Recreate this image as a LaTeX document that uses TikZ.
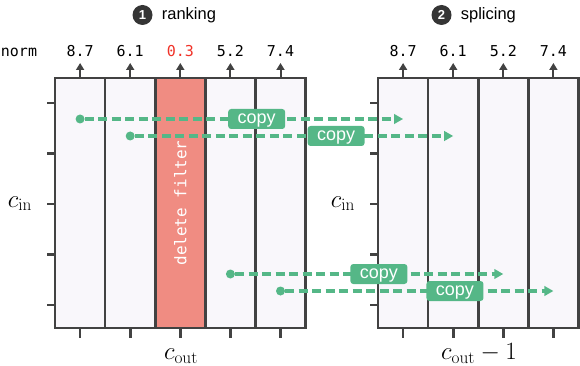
\documentclass[tikz,border=0pt]{standalone}
\usepackage[no-math]{fontspec}
\setmainfont{Liberation Sans}
\newfontfamily\normfont{DejaVu Sans Mono}
\usepackage{xcolor}
\usetikzlibrary{arrows.meta, positioning}
\DeclareMathSizes{23}{23}{18}{14}

\definecolor{gridgray}{HTML}{424242}
\definecolor{colfill}{HTML}{F9F7FB}
\definecolor{delred}{HTML}{F08C82}
\definecolor{lowred}{HTML}{F03228}
\definecolor{copygreen}{HTML}{55B787}

\begin{document}
\begin{tikzpicture}[
    x=1pt, y=-1pt,
    filtercol/.style={
        rectangle,
        draw=gridgray,
        line width=2.6pt,
        fill=colfill,
        minimum width=50.1pt,
        minimum height=250pt,
        inner sep=0pt,
        outer sep=0pt
    },
    normval/.style={font=\normfont\fontsize{15}{15}\selectfont, inner sep=0pt},
    normarrow/.style={
        -{Triangle[length=7pt,width=8pt]},
        line width=2pt,
        draw=gridgray,
        shorten >=6pt
    },
    axtick/.style={line width=2.6pt, draw=gridgray},
    axlabel/.style={font=\fontsize{23}{26}\selectfont, anchor=base, inner sep=0pt},
    srcdot/.style={circle, fill=copygreen, minimum size=9pt, inner sep=0pt},
    copyarrow/.style={
        -{Triangle[length=9pt,width=9.5pt]},
        line width=3.2pt,
        draw=copygreen,
        dash pattern=on 9pt off 4.5pt
    },
    copybox/.style={
        fill=copygreen,
        text=white,
        rounded corners=3pt,
        font=\fontsize{18}{18}\selectfont,
        text depth=0pt,
        minimum height=20pt,
        inner xsep=9.5pt,
        inner ysep=0pt
    },
    stepnum/.style={
        circle,
        fill=gridgray!80!black,
        text=white,
        minimum size=20pt,
        inner sep=0pt,
        font=\bfseries\fontsize{13}{13}\selectfont
    },
    steptitle/.style={font=\fontsize{16.5}{17}\selectfont, inner sep=0pt}
]
\useasboundingbox (0,0) rectangle (580,366);

% titles
\node[stepnum] (num1) at (142.5,15) {1};
\node[steptitle, right=9pt of num1] (rank) {ranking};
\node[stepnum] (num2) at (441.5,15) {2};
\node[steptitle, right=9pt of num2] (splice) {splicing};

% left weight, one column per filter
\node[filtercol] (c1) at (80.1,203) {};
\node[filtercol, right=0pt of c1] (c2) {};
\node[filtercol, right=0pt of c2, fill=delred] (c3) {};
\node[filtercol, right=0pt of c3] (c4) {};
\node[filtercol, right=0pt of c4] (c5) {};
\node[rotate=90, text=white, font=\normfont\fontsize{16}{16}\selectfont] (dellbl) at (c3) {delete filter};

% right weight after splicing
\node[filtercol, right=72.5pt of c5] (r1) {};
\node[filtercol, right=0pt of r1] (r2) {};
\node[filtercol, right=0pt of r2] (r3) {};
\node[filtercol, right=0pt of r3] (r4) {};

% norms
\node[normval, anchor=base] (normlbl) at (19,57) {norm};
\node[normval, above=21pt of c1] (v1) {8.7};
\node[normval, above=21pt of c2] (v2) {6.1};
\node[normval, above=21pt of c3, text=lowred] (v3) {0.3};
\node[normval, above=21pt of c4] (v4) {5.2};
\node[normval, above=21pt of c5] (v5) {7.4};
\node[normval, above=21pt of r1] (w1) {8.7};
\node[normval, above=21pt of r2] (w2) {6.1};
\node[normval, above=21pt of r3] (w3) {5.2};
\node[normval, above=21pt of r4] (w4) {7.4};

\draw[normarrow] (c1.north) -- (v1.south);
\draw[normarrow] (c2.north) -- (v2.south);
\draw[normarrow] (c3.north) -- (v3.south);
\draw[normarrow] (c4.north) -- (v4.south);
\draw[normarrow] (c5.north) -- (v5.south);
\draw[normarrow] (r1.north) -- (w1.south);
\draw[normarrow] (r2.north) -- (w2.south);
\draw[normarrow] (r3.north) -- (w3.south);
\draw[normarrow] (r4.north) -- (w4.south);

% axis ticks
\foreach \ty in {103,153.5,204,254.5,305} {
    \draw[axtick] (47,\ty) -- (55,\ty);
    \draw[axtick] (370,\ty) -- (378,\ty);
}
\draw[axtick] (c1.south) -- ++(0,10);
\draw[axtick] (c2.south) -- ++(0,10);
\draw[axtick] (c3.south) -- ++(0,10);
\draw[axtick] (c4.south) -- ++(0,10);
\draw[axtick] (c5.south) -- ++(0,10);
\draw[axtick] (r1.south) -- ++(0,10);
\draw[axtick] (r2.south) -- ++(0,10);
\draw[axtick] (r3.south) -- ++(0,10);
\draw[axtick] (r4.south) -- ++(0,10);

\node[axlabel] (cinL) at (20,207) {$c_{\mathrm{in}}$};
\node[axlabel] (cinR) at (343,207) {$c_{\mathrm{in}}$};
\node[axlabel] (coutL) at (181,359.5) {$c_{\mathrm{out}}$};
\node[axlabel] (coutR) at (479,359.5) {$c_{\mathrm{out}}-1$};

% copy kept filters
\node[srcdot] (s1) at ([yshift=84pt]c1) {};
\node[srcdot] (s2) at ([yshift=67pt]c2) {};
\node[srcdot] (s3) at ([yshift=-71pt]c4) {};
\node[srcdot] (s4) at ([yshift=-88pt]c5) {};
\coordinate (t1) at (r1 |- s1);
\coordinate (t2) at (r2 |- s2);
\coordinate (t3) at (r3 |- s3);
\coordinate (t4) at (r4 |- s4);

\draw[copyarrow] (s1) -- node[copybox, pos=0.54] (k1) {copy} (t1);
\draw[copyarrow] (s2) -- node[copybox, pos=0.632] (k2) {copy} (t2);
\draw[copyarrow] (s3) -- node[copybox, pos=0.536] (k3) {copy} (t3);
\draw[copyarrow] (s4) -- node[copybox, pos=0.633] (k4) {copy} (t4);

\end{tikzpicture}
\end{document}
